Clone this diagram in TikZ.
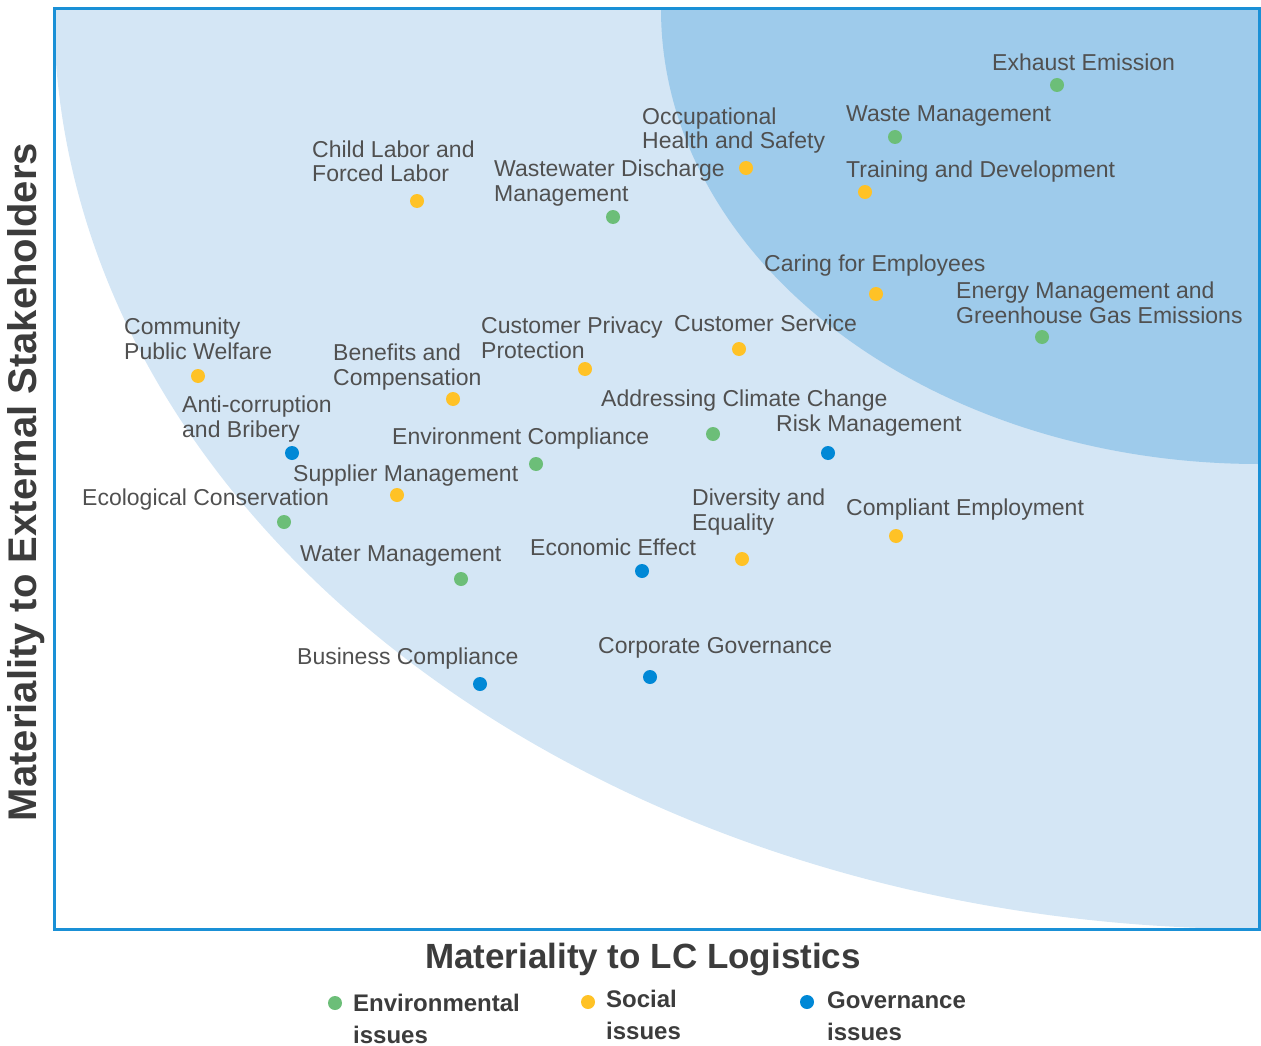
\documentclass[tikz,border=0pt]{standalone}
\usepackage{fontspec}
\setmainfont{Liberation Sans}
\definecolor{lightbg}{RGB}{212,230,245}
\definecolor{darkbg}{RGB}{158,203,235}
\definecolor{framec}{RGB}{26,144,214}
\definecolor{cgreen}{RGB}{108,190,120}
\definecolor{cyellow}{RGB}{255,194,38}
\definecolor{cblue}{RGB}{0,136,214}
\definecolor{txtgray}{RGB}{80,80,80}
\definecolor{titlegray}{RGB}{60,60,60}
\begin{document}
\begin{tikzpicture}[x=1pt,y=-1pt,
  lbl/.style={anchor=base west, inner sep=0pt, align=left, text=txtgray, font=\fontsize{23}{24.5}\selectfont},
  dotbase/.style={circle, minimum size=14pt, inner sep=0pt},
  dg/.style={dotbase, fill=cgreen},
  dy/.style={dotbase, fill=cyellow},
  db/.style={dotbase, fill=cblue},
  legtxt/.style={anchor=base west, inner sep=0pt, align=left, text=titlegray, font=\fontsize{24}{32}\selectfont\bfseries},
  axtitle/.style={inner sep=0pt, text=titlegray, font=\bfseries}
]
\useasboundingbox (0,0) rectangle (1261,1046);
\begin{scope}
  \clip (54,9) rectangle (1259,929);
  \fill[lightbg] (1259,9) ellipse [x radius=1205pt, y radius=920pt];
  \fill[darkbg] (1259,9) ellipse [x radius=598pt, y radius=455pt];
\end{scope}
\draw[framec, line width=3pt] (54,9) rectangle (1259,929);

% labels and dots (multi-line labels anchored at the baseline of their last line)
\node[lbl] (l1) at (992,71) {Exhaust Emission};
\node[dg] (d1) at (1057,85) {};
\node[lbl] (l2) at (846,122) {Waste Management};
\node[dg] (d2) at (895,137) {};
\node[lbl] (l3) at (642,149) {Occupational\\Health and Safety};
\node[dy] (d3) at (746,168) {};
\node[lbl] (l4) at (846,178) {Training and Development};
\node[dy] (d4) at (865,192) {};
\node[lbl] (l5) at (312,182) {Child Labor and\\Forced Labor};
\node[dy] (d5) at (417,201) {};
\node[lbl] (l6) at (494,201) {Wastewater Discharge\\Management};
\node[dg] (d6) at (613,217) {};
\node[lbl] (l7) at (764,271) {Caring for Employees};
\node[dy] (d7) at (876,294) {};
\node[lbl] (l8) at (956,323) {Energy Management and\\Greenhouse Gas Emissions};
\node[dg] (d8) at (1042,337) {};
\node[lbl] (l9) at (124,359) {Community\\Public Welfare};
\node[dy] (d9) at (198,376) {};
\node[lbl] (l10) at (333,385) {Benefits and\\Compensation};
\node[dy] (d10) at (453,399) {};
\node[lbl] (l11) at (481,358) {Customer Privacy\\Protection};
\node[dy] (d11) at (585,369) {};
\node[lbl] (l12) at (674,331) {Customer Service};
\node[dy] (d12) at (739,349) {};
\node[lbl] (l13) at (601,406) {Addressing Climate Change};
\node[dg] (d13) at (713,434) {};
\node[lbl] (l14) at (776,431) {Risk Management};
\node[db] (d14) at (828,453) {};
\node[lbl] (l15) at (182,437) {Anti-corruption\\and Bribery};
\node[db] (d15) at (292,453) {};
\node[lbl] (l16) at (392,444) {Environment Compliance};
\node[dg] (d16) at (536,464) {};
\node[lbl] (l17) at (293,481) {Supplier Management};
\node[dy] (d17) at (397,495) {};
\node[lbl] (l18) at (82,505) {Ecological Conservation};
\node[dg] (d18) at (284,522) {};
\node[lbl] (l19) at (692,530) {Diversity and\\Equality};
\node[dy] (d19) at (742,559) {};
\node[lbl] (l20) at (846,515) {Compliant Employment};
\node[dy] (d20) at (896,536) {};
\node[lbl] (l21) at (300,561) {Water Management};
\node[dg] (d21) at (461,579) {};
\node[lbl] (l22) at (530,555) {Economic Effect};
\node[db] (d22) at (642,571) {};
\node[lbl] (l23) at (297,664) {Business Compliance};
\node[db] (d23) at (480,684) {};
\node[lbl] (l24) at (598,653) {Corporate Governance};
\node[db] (d24) at (650,677) {};

% axis titles
\node[axtitle, font=\fontsize{35}{37}\selectfont\bfseries] (xt) at (643,960) {Materiality to LC Logistics};
\node[axtitle, rotate=90, font=\fontsize{40}{42}\selectfont\bfseries] (yt) at (26,482) {Materiality to External Stakeholders};

% legend
\node[dg] (ld1) at (335,1003) {};
\node[legtxt] (lt1) at (353,1043) {Environmental\\issues};
\node[dy] (ld2) at (588,1002) {};
\node[legtxt] (lt2) at (606,1039) {Social\\issues};
\node[db] (ld3) at (807,1002) {};
\node[legtxt] (lt3) at (827,1040) {Governance\\issues};
\end{tikzpicture}
\end{document}
